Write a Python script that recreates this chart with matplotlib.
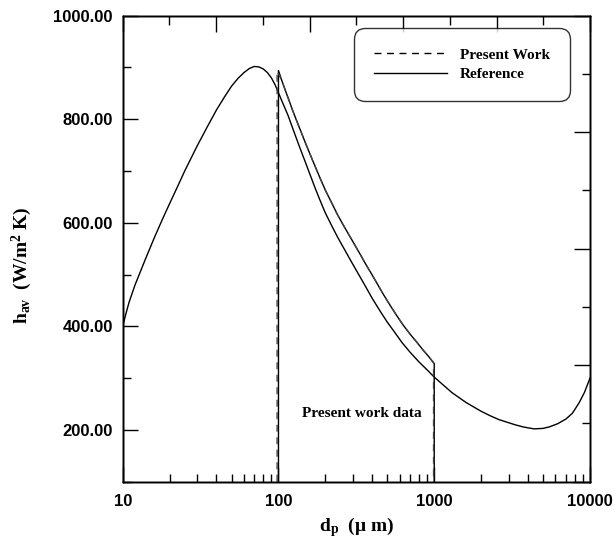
import matplotlib
matplotlib.use("Agg")
import matplotlib.pyplot as plt
from matplotlib.ticker import MultipleLocator, FixedLocator, FuncFormatter, LogLocator, NullFormatter

plt.rcParams["mathtext.fontset"] = "custom"
plt.rcParams["mathtext.rm"] = "Liberation Serif:bold"
plt.rcParams["mathtext.it"] = "Liberation Serif:bold"
plt.rcParams["mathtext.bf"] = "Liberation Serif:bold"

# Reference correlation over the full particle-size range
ref_d = [10, 10.5, 11, 12, 13, 14, 16, 18, 20, 22.5, 25, 27.5, 30, 35, 40, 45,
         50, 55, 60, 65, 70, 75, 80, 85, 90, 95, 100, 107, 115, 125, 136, 148,
         160, 172, 184, 200, 220, 240, 266, 300, 350, 400, 457, 500, 556, 620,
         700, 800, 900, 1000, 1150, 1300, 1450, 1600, 1800, 2000, 2300, 2600,
         3000, 3300, 3700, 4000, 4400, 5000, 5500, 6200, 7000, 7700, 8500, 9200,
         10000]
ref_h = [400, 425, 447, 480, 506, 530, 572, 607, 637, 670, 700, 725, 748, 786,
         818, 843, 864, 879, 890, 898, 902, 901, 897, 890, 880, 867, 851, 830,
         808, 778, 748, 719, 692, 667, 645, 619, 594, 572, 548, 520, 485, 454,
         426, 408, 389, 369, 350, 331, 316, 302, 286, 272, 262, 253, 244, 236,
         227, 220, 214, 210, 206, 204, 202, 203, 206, 212, 221, 232, 252, 272,
         300]

# Upper solid curve bounding the present data range (100-1000 um)
band_d = [100, 100, 105, 110, 117, 124, 137, 150, 167, 184, 200, 220, 240, 266,
          300, 332, 365, 400, 435, 471, 520, 571, 630, 700, 775, 850, 925, 1000,
          1000]
band_h = [100, 894, 875, 858, 836, 815, 782, 752, 718, 688, 663, 638, 615, 591,
          564, 541, 519, 499, 480, 462, 441, 422, 403, 385, 369, 354, 341, 328,
          100]

# Present work results
present_d = [98, 98, 105, 110, 117, 124, 137, 150, 167, 184, 200, 220, 240, 266,
             300, 332, 365, 400, 435, 471, 520, 571, 630, 700, 775, 850, 925, 990,
             990]
present_h = [100, 893, 875, 858, 836, 815, 782, 752, 718, 688, 663, 638, 615, 591,
             564, 541, 519, 499, 480, 462, 441, 422, 403, 385, 369, 354, 341, 330,
             100]

x_ticks = [10, 100, 1000, 10000]
y_ticks = [200, 400, 600, 800, 1000]

W, H = 615, 539
fig = plt.figure(figsize=(W / 100, H / 100), dpi=100)
ax = fig.add_axes([122.7 / W, 1 - 481.7 / H, (590 - 122.7) / W, (481.7 - 15.7) / H])

lw = 1.0
ax.plot(ref_d, ref_h, color="black", lw=lw, label="Reference")
ax.plot(band_d, band_h, color="black", lw=lw)
ax.plot(present_d, present_h, color="#444444", lw=lw, linestyle=(0, (5, 4)),
        label="Present Work")

ax.set_xscale("log")
ax.set_xlim(10, 10000)
ax.set_ylim(100, 1000)

ax.xaxis.set_major_locator(FixedLocator(x_ticks))
ax.xaxis.set_major_formatter(FuncFormatter(lambda v, p: f"{v:g}"))
ax.xaxis.set_minor_locator(LogLocator(base=10, subs=range(2, 10)))
ax.xaxis.set_minor_formatter(NullFormatter())
ax.yaxis.set_major_locator(FixedLocator(y_ticks))
ax.yaxis.set_major_formatter(FuncFormatter(lambda v, p: f"{v:.2f}"))
ax.yaxis.set_minor_locator(MultipleLocator(100))
for lab in ax.get_xticklabels() + ax.get_yticklabels():
    lab.set_fontfamily("Liberation Sans")
    lab.set_fontweight("bold")
    lab.set_fontsize(12)

ax.tick_params(which="both", direction="in", top=False, right=False, width=1.0)
ax.tick_params(which="major", length=11)
ax.tick_params(which="minor", length=6)
ax.tick_params(axis="x", pad=8.5)
ax.tick_params(axis="y", pad=7)
for s in ax.spines.values():
    s.set_linewidth(1.0)

# Secondary frame ticks on the top and right edges
axt = ax.twiny()
axt.set_xlim(0, 10)
axt.xaxis.set_major_locator(MultipleLocator(2))
axt.xaxis.set_minor_locator(MultipleLocator(1))
axt.tick_params(axis="x", which="both", direction="in", labeltop=False, width=1.0)
axt.tick_params(axis="x", which="major", length=11.5)
axt.tick_params(axis="x", which="minor", length=6.5)
axr = ax.twinx()
axr.set_ylim(0, 8)
axr.yaxis.set_major_locator(MultipleLocator(2))
axr.yaxis.set_minor_locator(MultipleLocator(1))
axr.tick_params(axis="y", which="both", direction="in", labelright=False, width=1.0)
axr.tick_params(axis="y", which="major", length=11.5)
axr.tick_params(axis="y", which="minor", length=6)
for a in (axt, axr):
    for s in a.spines.values():
        s.set_linewidth(1.0)

label_font = dict(family="Liberation Serif", weight="bold", size=14)
ax.set_xlabel(r"$\mathrm{d_p}$  (μ m)", fontdict=label_font, va="center")
ax.xaxis.set_label_coords(0.5, -0.097)
ax.set_ylabel(r"$\mathrm{h_{av}}$  (W/m$^\mathrm{2}$ K)", fontdict=label_font, va="center")
ax.yaxis.set_label_coords(-0.2155, 0.465)

ax.text(342, 231, "Present work data", ha="center", va="center",
        family="Liberation Serif", weight="bold", size=11)

handles, labels = ax.get_legend_handles_labels()
order = [1, 0]
leg = axr.legend([handles[i] for i in order], [labels[i] for i in order],
                 loc="upper right", bbox_to_anchor=((570 - 122.7) / 467.3, 1 - (28 - 15.7) / 466),
                 borderaxespad=0, borderpad=1.3, handlelength=4.8, handletextpad=0.85,
                 labelspacing=0.4, fancybox=True, frameon=True,
                 prop=dict(family="Liberation Serif", weight="bold", size=11))
frame = leg.get_frame()
frame.set_edgecolor("black")
frame.set_linewidth(1.0)
frame.set_boxstyle("round,pad=0,rounding_size=0.75")
for line in leg.get_lines():
    line.set_color("black")

fig.savefig("out.png", dpi=100)
